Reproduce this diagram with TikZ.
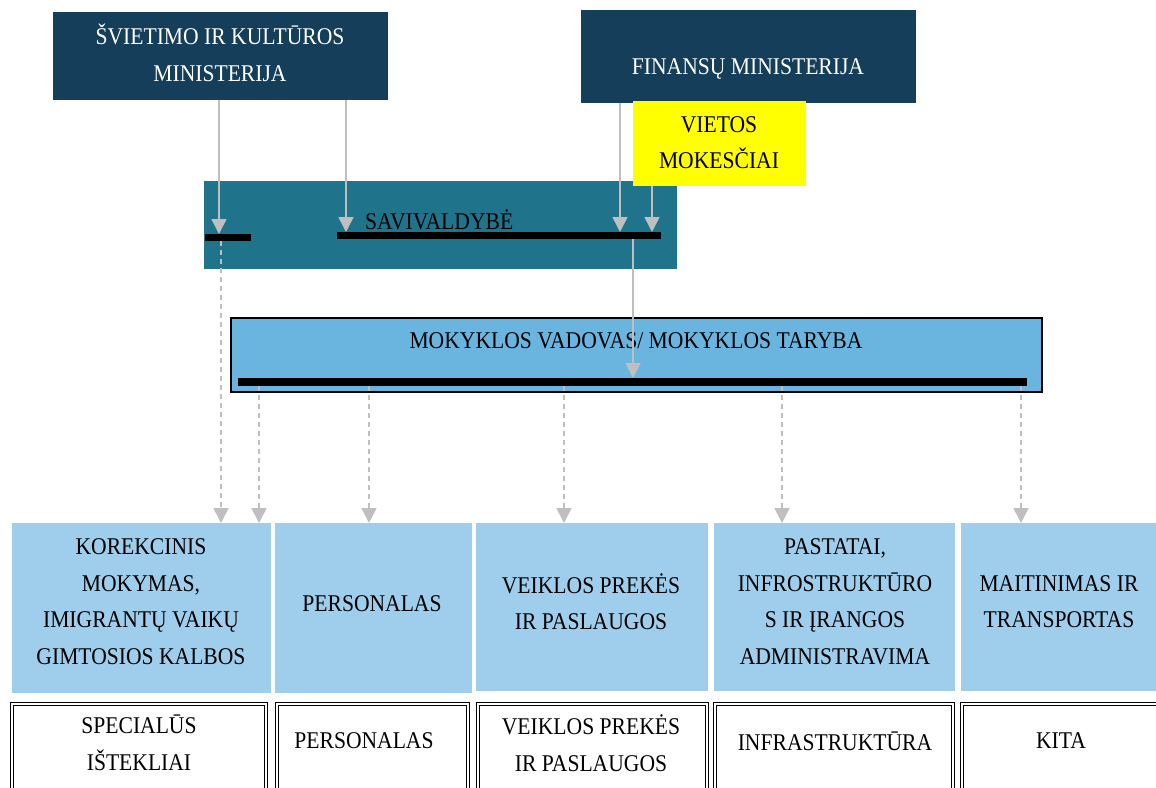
\documentclass[tikz,border=0pt]{standalone}
\usepackage{fontspec}
\setmainfont{Liberation Serif}[FakeStretch=0.9]
\usetikzlibrary{arrows.meta}
\definecolor{navyc}{RGB}{20,62,89}
\definecolor{tealc}{RGB}{31,116,140}
\definecolor{midblue}{RGB}{106,181,224}
\definecolor{lightblue}{RGB}{158,206,236}
\definecolor{arrowgrey}{RGB}{191,191,191}
\definecolor{pureyellow}{RGB}{255,255,0}
\begin{document}
\begin{tikzpicture}[x=1pt,y=-1pt,
  box/.style={rectangle, inner sep=0pt, outer sep=0pt, anchor=north west},
  txt/.style={inner sep=0pt, align=center, font=\fontsize{24}{36.5}\selectfont},
  bar/.style={box, fill=black},
  arr/.style={draw=arrowgrey, line width=1.6pt, -{Triangle[width=15pt,length=15pt]}},
  darr/.style={arr, dash pattern=on 5pt off 4pt},
  cell/.style={box, fill=lightblue},
  wcell/.style={box, draw=black, line width=1.2pt, double=white, double distance=1.4pt, minimum height=110pt}
]
\useasboundingbox (0,0) rectangle (1156,787);
\clip (0,0) rectangle (1156,787);

% top boxes
\node[box, fill=navyc, minimum width=335pt, minimum height=88pt] (svietimo) at (53,12) {};
\node[box, fill=navyc, minimum width=335pt, minimum height=93pt] (finansu) at (581,10) {};
\node[box, fill=tealc, minimum width=473pt, minimum height=88pt] (saviv) at (204,181) {};
\node[box, fill=pureyellow, minimum width=173pt, minimum height=85pt] (vietos) at (633,101) {};

\node[txt, text=white] (tsvietimo) at (220,53) {ŠVIETIMO IR KULTŪROS\\MINISTERIJA};
\node[txt, text=white] (tfinansu) at (748,69) {FINANSŲ MINISTERIJA};
\node[txt] (tvietos) at (719,142.5) {VIETOS\\MOKESČIAI};
\node[txt, anchor=west] (tsaviv) at (365,220) {SAVIVALDYBĖ};

% bars in savivaldybe
\node[bar, minimum width=46pt, minimum height=7pt] (bar1) at (205,234) {};
\node[bar, minimum width=324pt, minimum height=7pt] (bar2) at (337,232) {};

% mokyklos
\node[box, fill=midblue, draw=black, line width=1.5pt, minimum width=811pt, minimum height=74pt] (mokykla) at (231,318) {};
\node[txt] (tmokykla) at (636,341) {MOKYKLOS VADOVAS/ MOKYKLOS TARYBA};
\node[bar, minimum width=789pt, minimum height=8pt] (bar3) at (238,378) {};

% blue cells
\node[cell, minimum width=259pt, minimum height=170pt] (c1) at (12,523) {};
\node[cell, minimum width=197pt, minimum height=170pt] (c2) at (275,523) {};
\node[cell, minimum width=232pt, minimum height=168pt] (c3) at (476,523) {};
\node[cell, minimum width=241pt, minimum height=168pt] (c4) at (714,523) {};
\node[cell, minimum width=200pt, minimum height=168pt] (c5) at (961,523) {};

\node[txt] (tc1) at (141,601.5) {KOREKCINIS\\MOKYMAS,\\IMIGRANTŲ VAIKŲ\\GIMTOSIOS KALBOS};
\node[txt] (tc2) at (372,604) {PERSONALAS};
\node[txt] (tc3) at (591,601.5) {VEIKLOS PREKĖS\\IR PASLAUGOS};
\node[txt] (tc4) at (835,601.5) {PASTATAI,\\INFROSTRUKTŪRO\\S IR ĮRANGOS\\ADMINISTRAVIMA};
\node[txt] (tc5) at (1059,601.5) {MAITINIMAS IR\\TRANSPORTAS};

% white cells
\node[wcell, minimum width=254pt] (w1) at (12,704) {};
\node[wcell, minimum width=191pt] (w2) at (277,704) {};
\node[wcell, minimum width=229pt] (w3) at (478,704) {};
\node[wcell, minimum width=238pt] (w4) at (715,704) {};
\node[wcell, minimum width=220pt] (w5) at (962,704) {};

\node[txt] (tw1) at (139,743) {SPECIALŪS\\IŠTEKLIAI};
\node[txt] (tw2) at (364,741) {PERSONALAS};
\node[txt] (tw3) at (591,743) {VEIKLOS PREKĖS\\IR PASLAUGOS};
\node[txt] (tw4) at (835,741) {INFRASTRUKTŪRA};
\node[txt] (tw5) at (1061,741) {KITA};

% x positions of connectors
\coordinate (xa) at (219,0);
\coordinate (xb) at (346,0);
\coordinate (xc) at (620,0);
\coordinate (xd) at (652,0);
\coordinate (xe) at (633,0);
\coordinate (xf) at (221,0);
\coordinate (xg) at (259,0);
\coordinate (xh) at (369,0);
\coordinate (xi) at (564,0);
\coordinate (xj) at (782,0);
\coordinate (xk) at (1021,0);

% solid arrows
\draw[arr] (svietimo.south -| xa) -- (bar1.north -| xa);
\draw[arr] (svietimo.south -| xb) -- (bar2.north -| xb);
\draw[arr] (finansu.south -| xc) -- (bar2.north -| xc);
\draw[arr] (vietos.south -| xd) -- (bar2.north -| xd);
\draw[arr] (bar2.south -| xe) -- (bar3.north -| xe);

% dashed arrows
\draw[darr] (bar1.south -| xf) -- (c1.north -| xf);
\draw[darr] (bar3.south -| xg) -- (c1.north -| xg);
\draw[darr] (bar3.south -| xh) -- (c2.north -| xh);
\draw[darr] (bar3.south -| xi) -- (c3.north -| xi);
\draw[darr] (bar3.south -| xj) -- (c4.north -| xj);
\draw[darr] (bar3.south -| xk) -- (c5.north -| xk);
\end{tikzpicture}
\end{document}
